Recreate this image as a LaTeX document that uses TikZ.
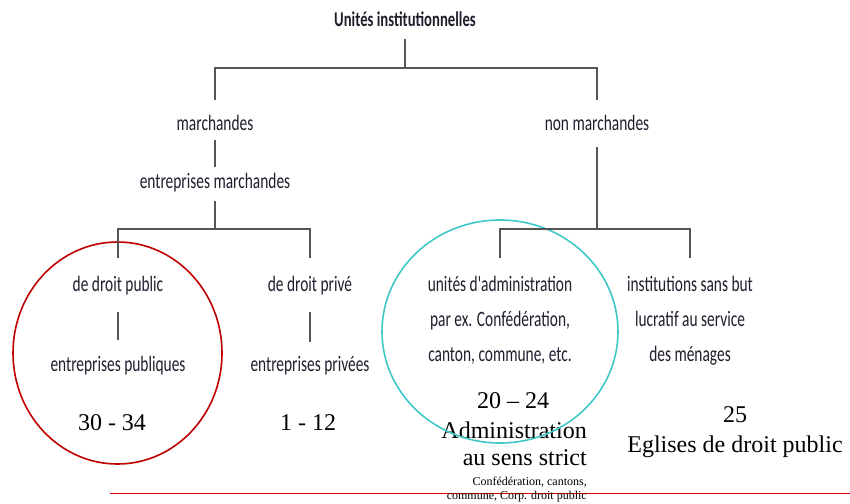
\documentclass[tikz,border=0pt]{standalone}
\usepackage{fontspec}
\setmainfont{Liberation Serif}
\newfontfamily\labelfont[FakeStretch=0.7]{Carlito}
\usetikzlibrary{positioning, calc}

\definecolor{treeline}{RGB}{85,85,85}
\definecolor{labelink}{RGB}{30,30,45}
\definecolor{circlered}{RGB}{192,0,0}
\definecolor{circlecyan}{RGB}{64,200,200}
\definecolor{rulered}{RGB}{220,0,0}

\begin{document}
\begin{tikzpicture}[
        x=1pt, y=-1pt,
        catbox/.style={inner sep=0pt, text height=15pt, text depth=5pt, text=labelink, font=\labelfont\fontsize{22}{35}\selectfont},
        heading/.style={catbox, font=\labelfont\bfseries\fontsize{21}{24}\selectfont},
        multibox/.style={inner sep=0pt, anchor=north, align=center, text=labelink, font=\labelfont\fontsize{22}{35}\selectfont},
        nacecode/.style={inner sep=0pt, anchor=base, font=\fontsize{24}{30}\selectfont},
        smallnote/.style={inner sep=0pt, anchor=base east, font=\fontsize{12}{14}\selectfont},
        tree/.style={treeline, line width=1.3pt}
    ]
        \useasboundingbox (0,0) rectangle (850,503);

        % 1. Top level
        \node (title) [heading] at (405,22) {Unités institutionnelles};

        % 2. Market / non-market
        \node (march) [catbox] at (215,125) {marchandes};
        \node (entm) [catbox, below=38pt of march] {entreprises marchandes};
        \node (nonmarch) [catbox] at (597,125) {non marchandes};

        % 3. Sub-units
        \node (public) [catbox] at (118,286) {de droit public};
        \node (entpub) [catbox, below=60pt of public] {entreprises publiques};
        \node (prive) [catbox] at (310,286) {de droit privé};
        \node (entpriv) [catbox, below=60pt of prive] {entreprises privées};
        \node (admin) [multibox] at (500,276) {unités d'administration\\par ex. Confédération,\\canton, commune, etc.};
        \node (isbl) [multibox] at (690,276) {institutions sans but\\lucratif au service\\des ménages};

        % 4. Codes
        \node (n3034) [nacecode] at (112,430) {30 - 34};
        \node (n112) [nacecode] at (308,430) {1 - 12};
        \node (n2024) [nacecode] at (513,408) {20 -- 24};
        \node (adm1) [nacecode, anchor=base east] at (587,438) {Administration};
        \node (adm2) [nacecode, anchor=base east] at (587,465) {au sens strict};
        \node (n25) [nacecode] at (735,422) {25};
        \node (eglises) [nacecode] at (735,452) {Eglises de droit public};

        % 5. Highlights
        \draw [circlered, line width=1.6pt] (117.5,353) ellipse [x radius=104.5pt, y radius=111pt];
        \draw [circlecyan, line width=1.6pt] (500,331.5) ellipse [x radius=118pt, y radius=111.5pt];
        \draw [rulered, line width=0.8pt] (110,493) -- (850,493);
        \node (note1) [smallnote] at (587,485) {Confédération, cantons,};
        \node (note2) [smallnote] at (587,499) {commune, Corp. droit public};

        % Connections
        \coordinate (bar1) at (405,68);
        \coordinate (bar2l) at (215,229);
        \coordinate (bar2r) at (597,229);
        \draw [tree, shorten <=7pt] (title) -- (bar1);
        \draw [tree, shorten <=15pt, shorten >=15pt] (march.north) |- (bar1) -| (nonmarch.north);
        \draw [tree, shorten <=5pt, shorten >=6pt] (march.south) -- (entm.north);
        \draw [tree, shorten <=7pt] (entm.south) -- (bar2l);
        \draw [tree, shorten <=12pt] (nonmarch.south) -- (bar2r);
        \draw [tree, shorten <=18pt, shorten >=18pt] (public.north) |- (bar2l) -| (prive.north);
        \draw [tree, shorten <=18pt, shorten >=18pt] (admin.north) |- (bar2r) -| (isbl.north);
        \draw [tree, shorten <=16pt, shorten >=16pt] (public.south) -- (entpub.north);
        \draw [tree, shorten <=16pt, shorten >=14pt] (prive.south) -- (entpriv.north);

    \end{tikzpicture}
\end{document}
